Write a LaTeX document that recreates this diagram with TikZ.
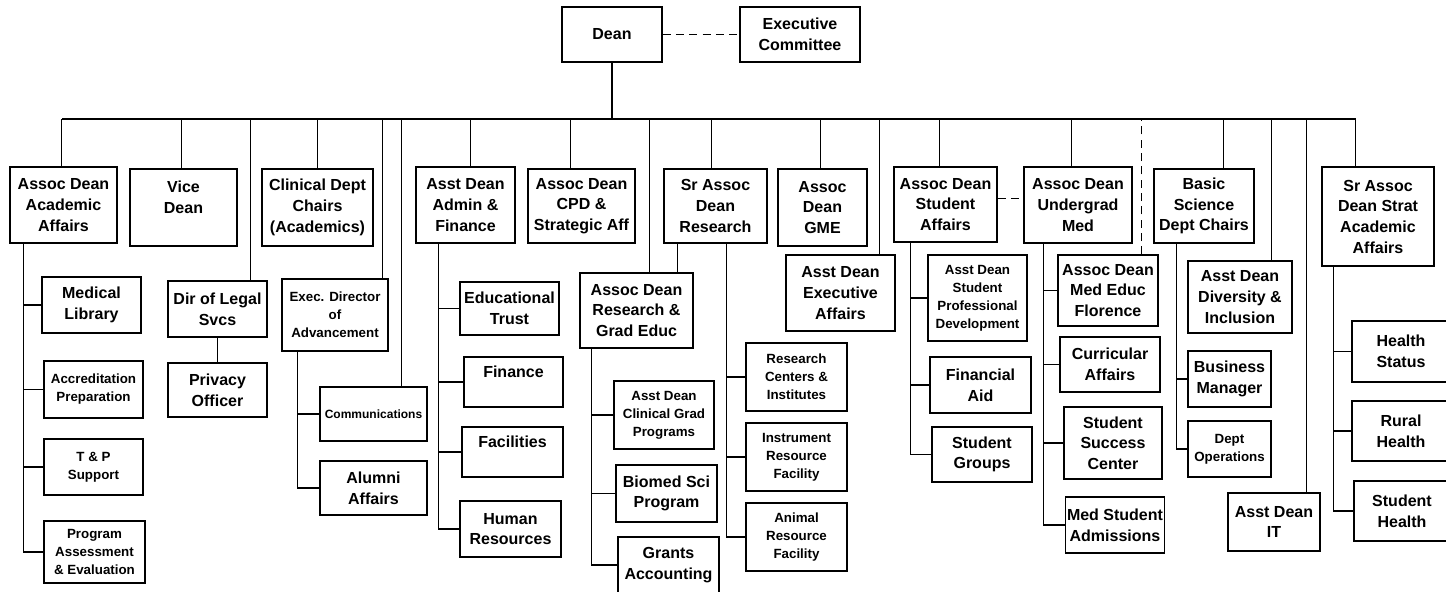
\documentclass[tikz,border=0pt]{standalone}
\usepackage{fontspec}
\setmainfont{Liberation Sans}
\tikzset{
  unit/.style={draw, line width=0.9pt, align=center, inner sep=1pt,
    font=\bfseries\fontsize{12}{15.5}\selectfont},
  smalltxt/.style={font=\bfseries\fontsize{10}{13.5}\selectfont},
  tinytxt/.style={font=\bfseries\fontsize{9}{11}\selectfont},
  sz/.style 2 args={minimum width=#1*0.75pt, minimum height=#2*0.75pt},
  wire/.style={line width=0.9pt},
  dotwire/.style={line width=0.9pt, dash pattern=on 6pt off 4pt},
}

\begin{document}
\begin{tikzpicture}[x=0.75pt, y=-0.75pt]
    \useasboundingbox (0,0) rectangle (1446,592);
    % Dean and committee
    \node[unit, sz={100}{55}] (dean) at (612,34.5) {Dean};
    \node[unit, sz={120}{55}] (exec) at (800,34.5) {Executive\\Committee};
    \draw[dotwire] (dean) -- (exec);
    % Bus under the dean
    \coordinate (busL) at (62,119);
    \coordinate (busR) at (1356,119);
    \draw[wire] (dean.south) -- (dean.south |- busL);
    \draw[wire] (busL) -- (busR);

    % Top row
    \node[unit, sz={107}{76}] (acad) at (63.5,205) {Assoc Dean\\Academic\\Affairs};
    \node[unit, sz={107}{77}] (vice) at (183.5,207.5) {Vice\\Dean\\~};
    \node[unit, sz={111}{77}] (clin) at (317.5,207.5) {Clinical Dept\\Chairs\\(Academics)};
    \node[unit, sz={99}{76}] (admin) at (465.5,205) {Asst Dean\\Admin \&\\Finance};
    \node[unit, sz={107}{74}] (cpd) at (581.5,206) {Assoc Dean\\CPD \&\\Strategic Aff};
    \node[unit, sz={103}{74}] (research) at (715.5,206) {Sr Assoc\\Dean\\Research};
    \node[unit, sz={89}{77}] (gme) at (822.5,207.5) {Assoc\\Dean\\GME};
    \node[unit, sz={103}{75}] (stud) at (945.5,204.5) {Assoc Dean\\Student\\Affairs};
    \node[unit, sz={108}{76}] (ugmed) at (1078,205) {Assoc Dean\\Undergrad\\Med};
    \node[unit, sz={100}{74}] (basic) at (1204,206) {Basic\\Science\\Dept Chairs};
    \node[unit, sz={112}{99}] (strat) at (1378,216.5) {Sr Assoc\\Dean Strat\\Academic\\Affairs};

    % Lower boxes
    \node[unit, sz={99}{56}] (medlib) at (91.5,305) {Medical\\Library};
    \node[unit, smalltxt, sz={99}{57}] (accred) at (93.5,389.5) {Accreditation\\Preparation};
    \node[unit, smalltxt, sz={99}{56}] (tp) at (93.5,467) {T \& P\\Support};
    \node[unit, smalltxt, sz={101}{62}] (prog) at (94.5,552) {Program\\Assessment\\\& Evaluation};
    \node[unit, sz={99}{56}] (legal) at (217.5,309) {Dir of Legal\\Svcs};
    \node[unit, sz={99}{54}] (privacy) at (217.5,390) {Privacy\\Officer};
    \node[unit, smalltxt, sz={106}{72}] (advdir) at (335,315) {Exec. Director\\of\\Advancement};
    \node[unit, tinytxt, sz={107}{54}] (comm) at (373.5,414) {Communications};
    \node[unit, sz={107}{54}] (alumni) at (373.5,488) {Alumni\\Affairs};
    \node[unit, sz={99}{53}] (edtrust) at (509.5,308.5) {Educational\\Trust};
    \node[unit, sz={99}{50}] (finance) at (513.5,382) {Finance\\~};
    \node[unit, sz={101}{50}] (facil) at (512.5,452) {Facilities\\~};
    \node[unit, sz={101}{56}] (hr) at (510.5,529) {Human\\Resources};
    \node[unit, sz={113}{75}] (resgrad) at (636.5,310.5) {Assoc Dean\\Research \&\\Grad Educ};
    \node[unit, smalltxt, sz={100}{68}] (clingrad) at (664,415) {Asst Dean\\Clinical Grad\\Programs};
    \node[unit, sz={101}{57}] (biomed) at (666.5,493.5) {Biomed Sci\\Program};
    \node[unit, sz={101}{56}] (grants) at (668.5,565) {Grants\\Accounting};
    \node[unit, smalltxt, sz={101}{68}] (rescent) at (796.5,377) {Research\\Centers \&\\Institutes};
    \node[unit, smalltxt, sz={101}{68}] (instr) at (796.5,457) {Instrument\\Resource\\Facility};
    \node[unit, smalltxt, sz={101}{68}] (animal) at (796.5,537) {Animal\\Resource\\Facility};
    \node[unit, sz={109}{76}] (exaff) at (840.5,293) {Asst Dean\\Executive\\Affairs};
    \node[unit, smalltxt, sz={99}{86}] (profdev) at (977.5,298) {Asst Dean\\Student\\Professional\\Development};
    \node[unit, sz={101}{56}] (finaid) at (980.5,385) {Financial\\Aid};
    \node[unit, sz={100}{55}] (groups) at (982,454.5) {Student\\Groups};
    \node[unit, sz={100}{71}] (florence) at (1108,290.5) {Assoc Dean\\Med Educ\\Florence};
    \node[unit, sz={100}{55}] (curric) at (1110,364.5) {Curricular\\Affairs};
    \node[unit, sz={98}{72}] (success) at (1113,443) {Student\\Success\\Center};
    \node[unit, sz={98}{56}] (admiss) at (1115,525) {Med Student\\Admissions};
    \node[unit, sz={104}{72}] (divers) at (1240,297) {Asst Dean\\Diversity \&\\Inclusion};
    \node[unit, sz={83}{56}] (busmgr) at (1229.5,379) {Business\\Manager};
    \node[unit, smalltxt, sz={83}{56}] (deptops) at (1229.5,449) {Dept\\Operations};
    \node[unit, sz={92}{58}] (it) at (1274,522) {Asst Dean\\IT};
    \node[unit, sz={98}{61}] (hstatus) at (1401,351.5) {Health\\Status};
    \node[unit, sz={98}{60}] (rural) at (1401,431) {Rural\\Health};
    \node[unit, sz={96}{60}] (shealth) at (1402,511) {Student\\Health};

    % Stems from the bus (offset from each box's left edge)
    \foreach \nm/\so in {acad/52, vice/52, clin/56, admin/55, cpd/43, research/48, gme/43,
        stud/46, ugmed/48, basic/70, strat/34, legal/83, advdir/101, comm/82, resgrad/70,
        exaff/94, divers/84, it/79} {
        \path (\nm.north west) ++(\so,0) coordinate (s);
        \draw[wire] (s) -- (s |- busL);
    }
    \path (florence.north west) ++(84,0) coordinate (s);
    \draw[dotwire] (s) -- (s |- busL);

    % Trunks down the left side of each parent
    \path (acad.south west) ++(14,0) coordinate (t);
    \draw[wire] (t) |- (medlib.west) (t) |- (accred.west) (t) |- (tp.west) (t) |- (prog.west);
    \path (advdir.south west) ++(16,0) coordinate (t);
    \draw[wire] (t) |- (comm.west) (t) |- (alumni.west);
    \path (admin.south west) ++(23,0) coordinate (t);
    \draw[wire] (t) |- (edtrust.west) (t) |- (finance.west) (t) |- (facil.west) (t) |- (hr.west);
    \path (resgrad.south west) ++(12,0) coordinate (t);
    \draw[wire] (t) |- (clingrad.west) (t) |- (biomed.west) (t) |- (grants.west);
    \path (research.south west) ++(63,0) coordinate (t);
    \draw[wire] (t) |- (rescent.west) (t) |- (instr.west) (t) |- (animal.west);
    \path (stud.south west) ++(17,0) coordinate (t);
    \draw[wire] (t) |- (profdev.west) (t) |- (finaid.west) (t) |- (groups.west);
    \path (ugmed.south west) ++(20,0) coordinate (t);
    \draw[wire] (t) |- (florence.west) (t) |- (curric.west) (t) |- (success.west) (t) |- (admiss.west);
    \path (basic.south west) ++(23,0) coordinate (t);
    \draw[wire] (t) |- (busmgr.west) (t) |- (deptops.west);
    \path (strat.south west) ++(12,0) coordinate (t);
    \draw[wire] (t) |- (hstatus.west) (t) |- (rural.west) (t) |- (shealth.west);
    \draw[wire] (legal) -- (privacy);
    \path (resgrad.north west) ++(98,0) coordinate (t);
    \draw[wire] (t) -- (t |- research.south);
    % Dashed link between the two student deans
    \path (stud.east) ++(0,-6) coordinate (t);
    \draw[dotwire] (t) -- (t -| ugmed.west);
\end{tikzpicture}
\end{document}
